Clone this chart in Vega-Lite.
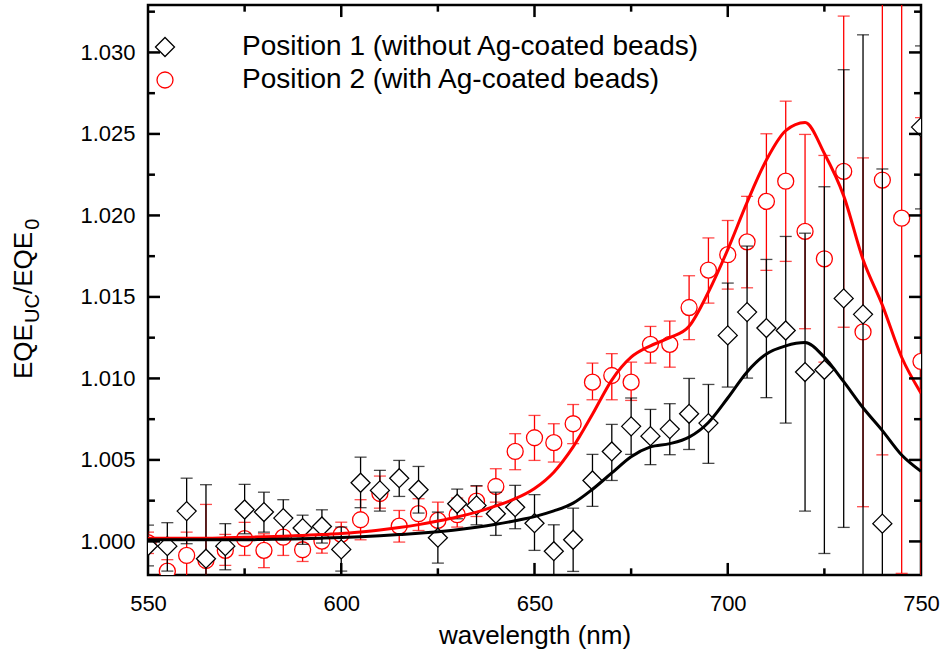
{
  "$schema": "https://vega.github.io/schema/vega-lite/v6.json",
  "width": 773,
  "height": 570,
  "autosize": {"type": "none"},
  "padding": {"left": 148, "top": 5, "right": 20, "bottom": 84},
  "background": "white",
  "config": {
    "view": {"stroke": "black", "strokeWidth": 2.5},
    "font": "Liberation Sans",
    "axis": {"domain": false, "grid": false, "ticks": false, "labelFlush": false, "labelColor": "black", "labelFont": "Liberation Sans", "labelFontSize": 22, "titleFont": "Liberation Sans", "titleFontSize": 26, "titleFontWeight": "normal", "titleColor": "black"}
  },
  "datasets": {
    "pts": [
      {"s": "P1", "wl": 550, "v": 0.99972, "lo": 0.9985, "hi": 1.0010},
      {"s": "P1", "wl": 555, "v": 0.99971, "lo": 0.99818, "hi": 1.00115},
      {"s": "P1", "wl": 560, "v": 1.00186, "lo": 0.99986, "hi": 1.00388},
      {"s": "P1", "wl": 565, "v": 0.99894, "lo": 0.9944, "hi": 1.00348},
      {"s": "P1", "wl": 570, "v": 0.99971, "lo": 0.99826, "hi": 1.00109},
      {"s": "P1", "wl": 575, "v": 1.00196, "lo": 1.00047, "hi": 1.0035},
      {"s": "P1", "wl": 580, "v": 1.0018, "lo": 1.00057, "hi": 1.00302},
      {"s": "P1", "wl": 585, "v": 1.00143, "lo": 1.00026, "hi": 1.00256},
      {"s": "P1", "wl": 590, "v": 1.00082, "lo": 0.99982, "hi": 1.00161},
      {"s": "P1", "wl": 595, "v": 1.00092, "lo": 0.9999, "hi": 1.00194},
      {"s": "P1", "wl": 600, "v": 0.99951, "lo": 0.99818, "hi": 1.00088},
      {"s": "P1", "wl": 605, "v": 1.0036, "lo": 1.00207, "hi": 1.00517},
      {"s": "P1", "wl": 610, "v": 1.00313, "lo": 1.00186, "hi": 1.00436},
      {"s": "P1", "wl": 615, "v": 1.00388, "lo": 1.00276, "hi": 1.00497},
      {"s": "P1", "wl": 620, "v": 1.00317, "lo": 1.00174, "hi": 1.0046},
      {"s": "P1", "wl": 625, "v": 1.00023, "lo": 0.99867, "hi": 1.0018},
      {"s": "P1", "wl": 630, "v": 1.00231, "lo": 1.00139, "hi": 1.00321},
      {"s": "P1", "wl": 635, "v": 1.00221, "lo": 1.00102, "hi": 1.00342},
      {"s": "P1", "wl": 640, "v": 1.0017, "lo": 1.00037, "hi": 1.00302},
      {"s": "P1", "wl": 645, "v": 1.0021, "lo": 1.00078, "hi": 1.00344},
      {"s": "P1", "wl": 650, "v": 1.00112, "lo": 0.99945, "hi": 1.00287},
      {"s": "P1", "wl": 655, "v": 0.9994, "lo": 0.99778, "hi": 1.00102},
      {"s": "P1", "wl": 660, "v": 1.0001, "lo": 0.99816, "hi": 1.00204},
      {"s": "P1", "wl": 665, "v": 1.00374, "lo": 1.00215, "hi": 1.00534},
      {"s": "P1", "wl": 670, "v": 1.00552, "lo": 1.00374, "hi": 1.00718},
      {"s": "P1", "wl": 675, "v": 1.00706, "lo": 1.00534, "hi": 1.0088},
      {"s": "P1", "wl": 680, "v": 1.00646, "lo": 1.00471, "hi": 1.0081},
      {"s": "P1", "wl": 685, "v": 1.00689, "lo": 1.00532, "hi": 1.00845},
      {"s": "P1", "wl": 690, "v": 1.00783, "lo": 1.00564, "hi": 1.01},
      {"s": "P1", "wl": 695, "v": 1.00726, "lo": 1.00479, "hi": 1.00963},
      {"s": "P1", "wl": 700, "v": 1.01264, "lo": 1.00947, "hi": 1.01585},
      {"s": "P1", "wl": 705, "v": 1.01407, "lo": 1.01002, "hi": 1.01812},
      {"s": "P1", "wl": 710, "v": 1.01309, "lo": 1.00882, "hi": 1.0173},
      {"s": "P1", "wl": 715, "v": 1.01294, "lo": 1.00726, "hi": 1.01871},
      {"s": "P1", "wl": 720, "v": 1.01039, "lo": 1.00186, "hi": 1.01891},
      {"s": "P1", "wl": 725, "v": 1.01053, "lo": 0.99926, "hi": 1.02176},
      {"s": "P1", "wl": 730, "v": 1.01491, "lo": 1.00086, "hi": 1.02894},
      {"s": "P1", "wl": 735, "v": 1.01393, "lo": 0.99678, "hi": 1.03108},
      {"s": "P1", "wl": 740, "v": 1.00109, "lo": 0.97933, "hi": 1.02285},
      {"s": "P1", "wl": 750, "v": 1.02542, "lo": 1.0204, "hi": 1.0304},
      {"s": "P2", "wl": 550, "v": 0.99992, "lo": 0.99926, "hi": 1.00057},
      {"s": "P2", "wl": 555, "v": 0.99818, "lo": 0.99748, "hi": 0.99888},
      {"s": "P2", "wl": 560, "v": 0.99914, "lo": 0.99771, "hi": 1.00057},
      {"s": "P2", "wl": 565, "v": 0.99883, "lo": 0.99539, "hi": 1.00227},
      {"s": "P2", "wl": 570, "v": 0.99945, "lo": 0.99853, "hi": 1.00043},
      {"s": "P2", "wl": 575, "v": 1.00017, "lo": 0.99914, "hi": 1.00117},
      {"s": "P2", "wl": 580, "v": 0.99945, "lo": 0.99839, "hi": 1.00047},
      {"s": "P2", "wl": 585, "v": 1.00026, "lo": 0.99914, "hi": 1.00129},
      {"s": "P2", "wl": 590, "v": 0.99949, "lo": 0.99877, "hi": 1.0002},
      {"s": "P2", "wl": 595, "v": 1.00002, "lo": 0.99928, "hi": 1.00088},
      {"s": "P2", "wl": 600, "v": 1.00043, "lo": 0.99965, "hi": 1.00118},
      {"s": "P2", "wl": 605, "v": 1.00133, "lo": 1.0001, "hi": 1.00256},
      {"s": "P2", "wl": 610, "v": 1.00294, "lo": 1.00204, "hi": 1.00401},
      {"s": "P2", "wl": 615, "v": 1.00094, "lo": 0.99996, "hi": 1.0019},
      {"s": "P2", "wl": 620, "v": 1.0017, "lo": 1.00067, "hi": 1.00262},
      {"s": "P2", "wl": 625, "v": 1.00129, "lo": 1.00026, "hi": 1.00241},
      {"s": "P2", "wl": 630, "v": 1.00164, "lo": 1.00088, "hi": 1.00266},
      {"s": "P2", "wl": 635, "v": 1.00247, "lo": 1.00153, "hi": 1.00339},
      {"s": "P2", "wl": 640, "v": 1.00337, "lo": 1.00241, "hi": 1.00446},
      {"s": "P2", "wl": 645, "v": 1.00552, "lo": 1.0044, "hi": 1.00661},
      {"s": "P2", "wl": 650, "v": 1.00636, "lo": 1.00497, "hi": 1.00773},
      {"s": "P2", "wl": 655, "v": 1.00606, "lo": 1.00487, "hi": 1.00722},
      {"s": "P2", "wl": 660, "v": 1.00722, "lo": 1.006, "hi": 1.0084},
      {"s": "P2", "wl": 665, "v": 1.00977, "lo": 1.00869, "hi": 1.01094},
      {"s": "P2", "wl": 670, "v": 1.01018, "lo": 1.00869, "hi": 1.01152},
      {"s": "P2", "wl": 675, "v": 1.00977, "lo": 1.00865, "hi": 1.011},
      {"s": "P2", "wl": 680, "v": 1.01209, "lo": 1.01094, "hi": 1.01319},
      {"s": "P2", "wl": 685, "v": 1.01209, "lo": 1.01069, "hi": 1.01352},
      {"s": "P2", "wl": 690, "v": 1.01435, "lo": 1.01238, "hi": 1.0163},
      {"s": "P2", "wl": 695, "v": 1.01665, "lo": 1.01462, "hi": 1.01862},
      {"s": "P2", "wl": 700, "v": 1.01759, "lo": 1.01548, "hi": 1.01969},
      {"s": "P2", "wl": 705, "v": 1.01838, "lo": 1.01556, "hi": 1.02117},
      {"s": "P2", "wl": 710, "v": 1.02086, "lo": 1.01663, "hi": 1.02501},
      {"s": "P2", "wl": 715, "v": 1.0221, "lo": 1.01718, "hi": 1.02701},
      {"s": "P2", "wl": 720, "v": 1.01902, "lo": 1.01305, "hi": 1.02497},
      {"s": "P2", "wl": 725, "v": 1.01734, "lo": 1.011, "hi": 1.02368},
      {"s": "P2", "wl": 730, "v": 1.0227, "lo": 1.01314, "hi": 1.03223},
      {"s": "P2", "wl": 735, "v": 1.01285, "lo": 1.00213, "hi": 1.02353},
      {"s": "P2", "wl": 740, "v": 1.02217, "lo": 1.00531, "hi": 1.03903},
      {"s": "P2", "wl": 745, "v": 1.01983, "lo": 0.99804, "hi": 1.04162},
      {"s": "P2", "wl": 750, "v": 1.01104, "lo": 0.9960, "hi": 1.0260}
    ],
    "fit": [
      {"s": "P2", "wl": 550, "v": 1.0002}, {"s": "P2", "wl": 555, "v": 1.0002}, {"s": "P2", "wl": 560, "v": 1.0002},
      {"s": "P2", "wl": 565, "v": 1.0002}, {"s": "P2", "wl": 570, "v": 1.00022}, {"s": "P2", "wl": 575, "v": 1.00025},
      {"s": "P2", "wl": 580, "v": 1.00028}, {"s": "P2", "wl": 585, "v": 1.00032}, {"s": "P2", "wl": 590, "v": 1.00037},
      {"s": "P2", "wl": 595, "v": 1.00042}, {"s": "P2", "wl": 600, "v": 1.00048}, {"s": "P2", "wl": 605, "v": 1.00058},
      {"s": "P2", "wl": 610, "v": 1.0007}, {"s": "P2", "wl": 615, "v": 1.00085}, {"s": "P2", "wl": 620, "v": 1.00103},
      {"s": "P2", "wl": 625, "v": 1.00125}, {"s": "P2", "wl": 630, "v": 1.0015}, {"s": "P2", "wl": 635, "v": 1.0018},
      {"s": "P2", "wl": 640, "v": 1.00218}, {"s": "P2", "wl": 645, "v": 1.00262}, {"s": "P2", "wl": 650, "v": 1.00325},
      {"s": "P2", "wl": 655, "v": 1.00425}, {"s": "P2", "wl": 660, "v": 1.0058}, {"s": "P2", "wl": 665, "v": 1.0078},
      {"s": "P2", "wl": 670, "v": 1.0099}, {"s": "P2", "wl": 675, "v": 1.0113}, {"s": "P2", "wl": 680, "v": 1.012},
      {"s": "P2", "wl": 685, "v": 1.0125}, {"s": "P2", "wl": 690, "v": 1.0132}, {"s": "P2", "wl": 695, "v": 1.0153},
      {"s": "P2", "wl": 700, "v": 1.0179}, {"s": "P2", "wl": 705, "v": 1.0208}, {"s": "P2", "wl": 710, "v": 1.0234},
      {"s": "P2", "wl": 715, "v": 1.0252}, {"s": "P2", "wl": 720, "v": 1.0257}, {"s": "P2", "wl": 725, "v": 1.0238},
      {"s": "P2", "wl": 730, "v": 1.0212}, {"s": "P2", "wl": 735, "v": 1.0173}, {"s": "P2", "wl": 740, "v": 1.0145},
      {"s": "P2", "wl": 745, "v": 1.0113}, {"s": "P2", "wl": 750, "v": 1.0091},
      {"s": "P1", "wl": 550, "v": 1.0001}, {"s": "P1", "wl": 555, "v": 1.0001}, {"s": "P1", "wl": 560, "v": 1.0001},
      {"s": "P1", "wl": 565, "v": 1.0001}, {"s": "P1", "wl": 570, "v": 1.0001}, {"s": "P1", "wl": 575, "v": 1.0001},
      {"s": "P1", "wl": 580, "v": 1.00012}, {"s": "P1", "wl": 585, "v": 1.00014}, {"s": "P1", "wl": 590, "v": 1.00017},
      {"s": "P1", "wl": 595, "v": 1.0002}, {"s": "P1", "wl": 600, "v": 1.00024}, {"s": "P1", "wl": 605, "v": 1.00029},
      {"s": "P1", "wl": 610, "v": 1.00035}, {"s": "P1", "wl": 615, "v": 1.00042}, {"s": "P1", "wl": 620, "v": 1.0005},
      {"s": "P1", "wl": 625, "v": 1.0006}, {"s": "P1", "wl": 630, "v": 1.00072}, {"s": "P1", "wl": 635, "v": 1.00087},
      {"s": "P1", "wl": 640, "v": 1.00105}, {"s": "P1", "wl": 645, "v": 1.00127}, {"s": "P1", "wl": 650, "v": 1.00152},
      {"s": "P1", "wl": 655, "v": 1.00187}, {"s": "P1", "wl": 660, "v": 1.00235}, {"s": "P1", "wl": 665, "v": 1.0032},
      {"s": "P1", "wl": 670, "v": 1.0042}, {"s": "P1", "wl": 675, "v": 1.0052}, {"s": "P1", "wl": 680, "v": 1.0058},
      {"s": "P1", "wl": 685, "v": 1.006}, {"s": "P1", "wl": 690, "v": 1.0064}, {"s": "P1", "wl": 695, "v": 1.0073},
      {"s": "P1", "wl": 700, "v": 1.0088}, {"s": "P1", "wl": 705, "v": 1.0104}, {"s": "P1", "wl": 710, "v": 1.0115},
      {"s": "P1", "wl": 715, "v": 1.012}, {"s": "P1", "wl": 720, "v": 1.0122}, {"s": "P1", "wl": 725, "v": 1.0113},
      {"s": "P1", "wl": 730, "v": 1.0098}, {"s": "P1", "wl": 735, "v": 1.0082}, {"s": "P1", "wl": 740, "v": 1.0068},
      {"s": "P1", "wl": 745, "v": 1.0053}, {"s": "P1", "wl": 750, "v": 1.0043}
    ]
  },
  "resolve": {"axis": {"x": "independent", "y": "independent"}},
  "layer": [
    {
      "data": {"name": "pts"},
      "transform": [{"filter": "datum.s == 'P2'"}],
      "mark": {"type": "rule", "color": "#ff0000", "strokeWidth": 1.3, "clip": true},
      "encoding": {
        "x": {"field": "wl", "type": "quantitative", "scale": {"domain": [550, 750], "nice": false, "zero": false},
          "axis": {"orient": "bottom", "values": [550, 600, 650, 700, 750], "labelPadding": 18, "title": "wavelength (nm)", "titlePadding": 8}},
        "y": {"field": "lo", "type": "quantitative", "scale": {"domain": [0.99794, 1.03291], "nice": false, "zero": false},
          "axis": {"orient": "left", "values": [1.0, 1.005, 1.01, 1.015, 1.02, 1.025, 1.03], "format": ".3f", "labelPadding": 13, "title": null}},
        "y2": {"field": "hi"}
      }
    },
    {
      "data": {"name": "pts"},
      "transform": [{"filter": "datum.s == 'P2'"}],
      "mark": {"type": "tick", "orient": "horizontal", "size": 12, "thickness": 1.3, "color": "#ff0000", "clip": true},
      "encoding": {
        "x": {"field": "wl", "type": "quantitative", "scale": {"domain": [550, 750], "nice": false, "zero": false}, "axis": null},
        "y": {"field": "lo", "type": "quantitative", "scale": {"domain": [0.99794, 1.03291], "nice": false, "zero": false}, "axis": null}
      }
    },
    {
      "data": {"name": "pts"},
      "transform": [{"filter": "datum.s == 'P2'"}],
      "mark": {"type": "tick", "orient": "horizontal", "size": 12, "thickness": 1.3, "color": "#ff0000", "clip": true},
      "encoding": {
        "x": {"field": "wl", "type": "quantitative", "scale": {"domain": [550, 750], "nice": false, "zero": false}, "axis": null},
        "y": {"field": "hi", "type": "quantitative", "scale": {"domain": [0.99794, 1.03291], "nice": false, "zero": false}, "axis": null}
      }
    },
    {
      "data": {"name": "pts"},
      "transform": [{"filter": "datum.s == 'P2'"}],
      "mark": {"type": "point", "filled": false, "fill": "white", "fillOpacity": 1, "opacity": 1, "strokeWidth": 1.3, "clip": true},
      "encoding": {
        "x": {"field": "wl", "type": "quantitative", "scale": {"domain": [550, 750], "nice": false, "zero": false}, "axis": null},
        "y": {"field": "v", "type": "quantitative", "scale": {"domain": [0.99794, 1.03291], "nice": false, "zero": false}, "axis": null},
        "stroke": {"field": "s", "type": "nominal", "scale": {"domain": ["P1", "P2"], "range": ["#000000", "#ff0000"]},
          "legend": {"orient": "none", "legendX": 3, "legendY": 28, "title": null, "labelFontSize": 28, "labelFont": "Liberation Sans", "labelColor": "black", "labelOffset": 63, "rowPadding": 5, "labelLimit": 0, "symbolStrokeWidth": 1.3,
            "labelExpr": "datum.label == 'P1' ? 'Position 1 (without Ag-coated beads)' : 'Position 2 (with Ag-coated beads)'"}},
        "shape": {"field": "s", "type": "nominal", "scale": {"domain": ["P1", "P2"], "range": ["diamond", "circle"]}},
        "size": {"field": "s", "type": "nominal", "scale": {"type": "ordinal", "domain": ["P1", "P2"], "range": [361, 256]}}
      }
    },
    {
      "data": {"name": "pts"},
      "transform": [{"filter": "datum.s == 'P1'"}],
      "mark": {"type": "rule", "color": "#000000", "strokeWidth": 1.3, "clip": true},
      "encoding": {
        "x": {"field": "wl", "type": "quantitative", "scale": {"domain": [550, 750], "nice": false, "zero": false}, "axis": null},
        "y": {"field": "lo", "type": "quantitative", "scale": {"domain": [0.99794, 1.03291], "nice": false, "zero": false}, "axis": null},
        "y2": {"field": "hi"}
      }
    },
    {
      "data": {"name": "pts"},
      "transform": [{"filter": "datum.s == 'P1'"}],
      "mark": {"type": "tick", "orient": "horizontal", "size": 12, "thickness": 1.3, "color": "#000000", "clip": true},
      "encoding": {
        "x": {"field": "wl", "type": "quantitative", "scale": {"domain": [550, 750], "nice": false, "zero": false}, "axis": null},
        "y": {"field": "lo", "type": "quantitative", "scale": {"domain": [0.99794, 1.03291], "nice": false, "zero": false}, "axis": null}
      }
    },
    {
      "data": {"name": "pts"},
      "transform": [{"filter": "datum.s == 'P1'"}],
      "mark": {"type": "tick", "orient": "horizontal", "size": 12, "thickness": 1.3, "color": "#000000", "clip": true},
      "encoding": {
        "x": {"field": "wl", "type": "quantitative", "scale": {"domain": [550, 750], "nice": false, "zero": false}, "axis": null},
        "y": {"field": "hi", "type": "quantitative", "scale": {"domain": [0.99794, 1.03291], "nice": false, "zero": false}, "axis": null}
      }
    },
    {
      "data": {"name": "pts"},
      "transform": [{"filter": "datum.s == 'P1'"}],
      "mark": {"type": "point", "filled": false, "fill": "white", "fillOpacity": 1, "opacity": 1, "strokeWidth": 1.3, "clip": true},
      "encoding": {
        "x": {"field": "wl", "type": "quantitative", "scale": {"domain": [550, 750], "nice": false, "zero": false}, "axis": null},
        "y": {"field": "v", "type": "quantitative", "scale": {"domain": [0.99794, 1.03291], "nice": false, "zero": false}, "axis": null},
        "stroke": {"field": "s", "type": "nominal", "scale": {"domain": ["P1", "P2"], "range": ["#000000", "#ff0000"]},
          "legend": {"orient": "none", "legendX": 3, "legendY": 28, "title": null, "labelFontSize": 28, "labelFont": "Liberation Sans", "labelColor": "black", "labelOffset": 63, "rowPadding": 5, "labelLimit": 0, "symbolStrokeWidth": 1.3,
            "labelExpr": "datum.label == 'P1' ? 'Position 1 (without Ag-coated beads)' : 'Position 2 (with Ag-coated beads)'"}},
        "shape": {"field": "s", "type": "nominal", "scale": {"domain": ["P1", "P2"], "range": ["diamond", "circle"]}},
        "size": {"field": "s", "type": "nominal", "scale": {"type": "ordinal", "domain": ["P1", "P2"], "range": [361, 256]}}
      }
    },
    {
      "data": {"name": "fit"},
      "transform": [{"filter": "datum.s == 'P2'"}],
      "mark": {"type": "line", "color": "#ff0000", "strokeWidth": 3, "interpolate": "monotone", "clip": true},
      "encoding": {
        "x": {"field": "wl", "type": "quantitative", "scale": {"domain": [550, 750], "nice": false, "zero": false}, "axis": null},
        "y": {"field": "v", "type": "quantitative", "scale": {"domain": [0.99794, 1.03291], "nice": false, "zero": false}, "axis": null}
      }
    },
    {
      "data": {"name": "fit"},
      "transform": [{"filter": "datum.s == 'P1'"}],
      "mark": {"type": "line", "color": "#000000", "strokeWidth": 3, "interpolate": "monotone", "clip": true},
      "encoding": {
        "x": {"field": "wl", "type": "quantitative", "scale": {"domain": [550, 750], "nice": false, "zero": false}, "axis": null},
        "y": {"field": "v", "type": "quantitative", "scale": {"domain": [0.99794, 1.03291], "nice": false, "zero": false}, "axis": null}
      }
    },
    {
      "data": {"values": [{"t": 600}, {"t": 650}, {"t": 700}]},
      "mark": {"type": "rule", "color": "black", "strokeWidth": 2.5},
      "encoding": {
        "x": {"field": "t", "type": "quantitative", "scale": {"domain": [550, 750], "nice": false, "zero": false}, "axis": null},
        "y": {"datum": 0.99794, "type": "quantitative", "scale": {"domain": [0.99794, 1.03291], "nice": false, "zero": false}, "axis": null},
        "y2": {"datum": 0.99868}
      }
    },
    {
      "data": {"values": [{"t": 600}, {"t": 650}, {"t": 700}]},
      "mark": {"type": "rule", "color": "black", "strokeWidth": 2.5},
      "encoding": {
        "x": {"field": "t", "type": "quantitative", "scale": {"domain": [550, 750], "nice": false, "zero": false}, "axis": null},
        "y": {"datum": 1.03291, "type": "quantitative", "scale": {"domain": [0.99794, 1.03291], "nice": false, "zero": false}, "axis": null},
        "y2": {"datum": 1.03217}
      }
    },
    {
      "data": {"values": [{"t": 575}, {"t": 625}, {"t": 675}, {"t": 725}]},
      "mark": {"type": "rule", "color": "black", "strokeWidth": 2.5},
      "encoding": {
        "x": {"field": "t", "type": "quantitative", "scale": {"domain": [550, 750], "nice": false, "zero": false}, "axis": null},
        "y": {"datum": 0.99794, "type": "quantitative", "scale": {"domain": [0.99794, 1.03291], "nice": false, "zero": false}, "axis": null},
        "y2": {"datum": 0.99835}
      }
    },
    {
      "data": {"values": [{"t": 575}, {"t": 625}, {"t": 675}, {"t": 725}]},
      "mark": {"type": "rule", "color": "black", "strokeWidth": 2.5},
      "encoding": {
        "x": {"field": "t", "type": "quantitative", "scale": {"domain": [550, 750], "nice": false, "zero": false}, "axis": null},
        "y": {"datum": 1.03291, "type": "quantitative", "scale": {"domain": [0.99794, 1.03291], "nice": false, "zero": false}, "axis": null},
        "y2": {"datum": 1.0325}
      }
    },
    {
      "data": {"values": [{"t": 1.0}, {"t": 1.005}, {"t": 1.01}, {"t": 1.015}, {"t": 1.02}, {"t": 1.025}, {"t": 1.03}]},
      "mark": {"type": "rule", "color": "black", "strokeWidth": 2.5},
      "encoding": {
        "y": {"field": "t", "type": "quantitative", "scale": {"domain": [0.99794, 1.03291], "nice": false, "zero": false}, "axis": null},
        "x": {"datum": 550, "type": "quantitative", "scale": {"domain": [550, 750], "nice": false, "zero": false}, "axis": null},
        "x2": {"datum": 553.1}
      }
    },
    {
      "data": {"values": [{"t": 1.0}, {"t": 1.005}, {"t": 1.01}, {"t": 1.015}, {"t": 1.02}, {"t": 1.025}, {"t": 1.03}]},
      "mark": {"type": "rule", "color": "black", "strokeWidth": 2.5},
      "encoding": {
        "y": {"field": "t", "type": "quantitative", "scale": {"domain": [0.99794, 1.03291], "nice": false, "zero": false}, "axis": null},
        "x": {"datum": 750, "type": "quantitative", "scale": {"domain": [550, 750], "nice": false, "zero": false}, "axis": null},
        "x2": {"datum": 746.9}
      }
    },
    {
      "data": {"values": [{"t": 1.0025}, {"t": 1.0075}, {"t": 1.0125}, {"t": 1.0175}, {"t": 1.0225}, {"t": 1.0275}, {"t": 1.0325}]},
      "mark": {"type": "rule", "color": "black", "strokeWidth": 2.5},
      "encoding": {
        "y": {"field": "t", "type": "quantitative", "scale": {"domain": [0.99794, 1.03291], "nice": false, "zero": false}, "axis": null},
        "x": {"datum": 550, "type": "quantitative", "scale": {"domain": [550, 750], "nice": false, "zero": false}, "axis": null},
        "x2": {"datum": 551.8}
      }
    },
    {
      "data": {"values": [{"t": 1.0025}, {"t": 1.0075}, {"t": 1.0125}, {"t": 1.0175}, {"t": 1.0225}, {"t": 1.0275}, {"t": 1.0325}]},
      "mark": {"type": "rule", "color": "black", "strokeWidth": 2.5},
      "encoding": {
        "y": {"field": "t", "type": "quantitative", "scale": {"domain": [0.99794, 1.03291], "nice": false, "zero": false}, "axis": null},
        "x": {"datum": 750, "type": "quantitative", "scale": {"domain": [550, 750], "nice": false, "zero": false}, "axis": null},
        "x2": {"datum": 748.2}
      }
    },
    {
      "data": {"values": [{}]},
      "mark": {"type": "text", "text": "EQE", "angle": 270, "align": "left", "baseline": "alphabetic", "fontSize": 26, "font": "Liberation Sans", "color": "black"},
      "encoding": {
        "x": {"datum": 520.0, "type": "quantitative", "scale": {"domain": [550, 750], "nice": false, "zero": false}, "axis": null},
        "y": {"datum": 1.009965, "type": "quantitative", "scale": {"domain": [0.99794, 1.03291], "nice": false, "zero": false}, "axis": null}
      }
    },
    {
      "data": {"values": [{}]},
      "mark": {"type": "text", "text": "UC", "angle": 270, "align": "left", "baseline": "alphabetic", "fontSize": 20, "font": "Liberation Sans", "color": "black"},
      "encoding": {
        "x": {"datum": 521.9, "type": "quantitative", "scale": {"domain": [550, 750], "nice": false, "zero": false}, "axis": null},
        "y": {"datum": 1.013401, "type": "quantitative", "scale": {"domain": [0.99794, 1.03291], "nice": false, "zero": false}, "axis": null}
      }
    },
    {
      "data": {"values": [{}]},
      "mark": {"type": "text", "text": "/EQE", "angle": 270, "align": "left", "baseline": "alphabetic", "fontSize": 26, "font": "Liberation Sans", "color": "black"},
      "encoding": {
        "x": {"datum": 520.0, "type": "quantitative", "scale": {"domain": [550, 750], "nice": false, "zero": false}, "axis": null},
        "y": {"datum": 1.01518, "type": "quantitative", "scale": {"domain": [0.99794, 1.03291], "nice": false, "zero": false}, "axis": null}
      }
    },
    {
      "data": {"values": [{}]},
      "mark": {"type": "text", "text": "0", "angle": 270, "align": "left", "baseline": "alphabetic", "fontSize": 20, "font": "Liberation Sans", "color": "black"},
      "encoding": {
        "x": {"datum": 521.9, "type": "quantitative", "scale": {"domain": [550, 750], "nice": false, "zero": false}, "axis": null},
        "y": {"datum": 1.01912, "type": "quantitative", "scale": {"domain": [0.99794, 1.03291], "nice": false, "zero": false}, "axis": null}
      }
    }
  ]
}
